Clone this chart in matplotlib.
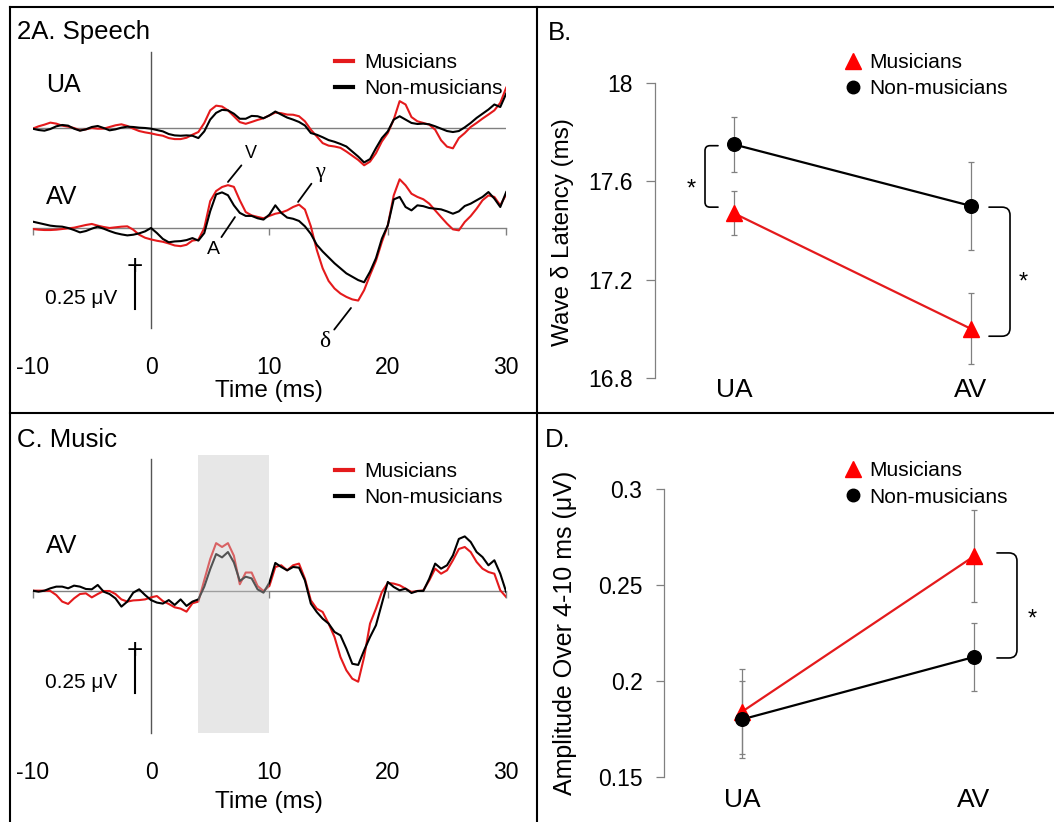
import numpy as np
import matplotlib
matplotlib.use("Agg")
import matplotlib.pyplot as plt
from matplotlib.lines import Line2D

plt.rcParams['font.family'] = ['Liberation Sans', 'DejaVu Sans']

W, H = 1054, 822
RED = '#e41a1c'
MRED = '#ff0000'
GREY = '#808080'
UV_PX = 168.0       # pixels per microvolt on the waveform panels
UA_OFF = 100 / UV_PX  # vertical offset of the UA trace above the AV trace

def fx(px):
    return px / W

def fy(py):
    return 1 - py / H

# ---- grand-average waveforms, sampled every 0.5 ms from -10 to 30 ms (uV) ----
t = np.arange(-10, 30.01, 0.5)

speech_ua_mus = [-0.004, 0.010, 0.020, 0.032, 0.026, 0.014, 0.008, 0.000, -0.014, -0.008,
                 0.000, -0.004, -0.004, 0.006, 0.016, 0.022, 0.012, -0.004, -0.018, -0.026,
                 -0.032, -0.040, -0.046, -0.060, -0.066, -0.066, -0.058, -0.040, -0.024, 0.030,
                 0.105, 0.133, 0.128, 0.105, 0.070, 0.035, 0.025, 0.036, 0.048, 0.058,
                 0.075, 0.092, 0.088, 0.080, 0.079, 0.070, 0.040, -0.010, -0.050, -0.090,
                 -0.105, -0.110, -0.118, -0.140, -0.165, -0.190, -0.222, -0.200, -0.150, -0.080,
                 -0.030, 0.050, 0.160, 0.140, 0.065, 0.040, 0.030, 0.020, -0.010, -0.073,
                 -0.111, -0.121, -0.060, -0.030, 0.006, 0.030, 0.056, 0.080, 0.105, 0.150,
                 0.240]
speech_ua_non = [-0.004, -0.012, -0.016, -0.006, 0.010, 0.018, 0.014, -0.004, -0.016, -0.008,
                 0.006, 0.012, 0.000, -0.014, -0.008, 0.002, 0.008, 0.006, 0.002, 0.000,
                 -0.004, -0.012, -0.020, -0.036, -0.044, -0.046, -0.044, -0.046, -0.060, -0.020,
                 0.050, 0.090, 0.108, 0.105, 0.085, 0.055, 0.055, 0.072, 0.070, 0.058,
                 0.075, 0.098, 0.080, 0.062, 0.050, 0.036, 0.015, -0.030, -0.040, -0.055,
                 -0.072, -0.082, -0.095, -0.110, -0.140, -0.170, -0.205, -0.185, -0.120, -0.060,
                 -0.020, 0.050, 0.070, 0.050, 0.030, 0.024, 0.026, 0.022, 0.010, -0.004,
                 -0.018, -0.024, -0.018, 0.004, 0.030, 0.060, 0.085, 0.110, 0.140, 0.125,
                 0.205]
speech_av_mus = [-0.006, -0.010, -0.012, -0.012, -0.010, -0.006, -0.002, 0.002, 0.010, 0.018,
                 0.024, 0.014, 0.006, 0.000, 0.004, 0.008, 0.010, -0.010, -0.040, -0.058,
                 -0.068, -0.076, -0.082, -0.092, -0.104, -0.108, -0.100, -0.075, -0.070, 0.000,
                 0.160, 0.220, 0.244, 0.255, 0.245, 0.165, 0.095, 0.075, 0.066, 0.058,
                 0.072, 0.085, 0.092, 0.105, 0.125, 0.139, 0.110, 0.010, -0.130, -0.240,
                 -0.315, -0.360, -0.390, -0.410, -0.425, -0.432, -0.370, -0.280, -0.195, -0.083,
                 0.016, 0.194, 0.290, 0.254, 0.204, 0.185, 0.171, 0.145, 0.105, 0.065,
                 0.026, -0.008, -0.014, 0.036, 0.071, 0.115, 0.165, 0.194, 0.185, 0.135,
                 0.200]
speech_av_non = [0.038, 0.030, 0.022, 0.014, 0.010, 0.008, 0.000, -0.012, -0.026, -0.018,
                 -0.004, 0.008, -0.004, -0.018, -0.030, -0.038, -0.044, -0.040, -0.032, -0.020,
                 0.000, -0.030, -0.065, -0.085, -0.080, -0.078, -0.072, -0.060, -0.075, -0.030,
                 0.100, 0.200, 0.212, 0.195, 0.135, 0.090, 0.072, 0.072, 0.058, 0.050,
                 0.080, 0.135, 0.090, 0.062, 0.055, 0.042, 0.010, -0.035, -0.100, -0.140,
                 -0.175, -0.210, -0.240, -0.270, -0.290, -0.310, -0.323, -0.260, -0.180, -0.063,
                 0.016, 0.170, 0.185, 0.125, 0.105, 0.135, 0.130, 0.119, 0.115, 0.111,
                 0.099, 0.085, 0.099, 0.131, 0.145, 0.165, 0.185, 0.214, 0.175, 0.125,
                 0.214]
music_av_mus = [0.002, 0.002, 0.002, 0.000, -0.024, -0.063, -0.077, -0.044, -0.018, -0.014,
                -0.038, -0.018, 0.000, 0.000, -0.018, -0.050, -0.063, -0.056, -0.054, -0.050,
                -0.038, -0.030, -0.060, -0.077, -0.097, -0.105, -0.123, -0.073, -0.063, 0.065,
                0.190, 0.285, 0.262, 0.285, 0.210, 0.040, 0.110, 0.110, 0.030, 0.000,
                0.030, 0.143, 0.153, 0.123, 0.153, 0.163, 0.073, -0.056, -0.105, -0.125,
                -0.194, -0.274, -0.393, -0.472, -0.522, -0.540, -0.393, -0.194, -0.105, -0.006,
                0.048, 0.044, 0.034, 0.014, -0.006, 0.000, 0.004, 0.063, 0.133, 0.103,
                0.123, 0.183, 0.250, 0.262, 0.232, 0.173, 0.133, 0.113, 0.103, 0.004,
                -0.036]
music_av_non = [0.002, -0.004, 0.002, 0.016, 0.026, 0.026, 0.016, 0.032, 0.026, 0.012,
                0.010, 0.036, -0.004, -0.018, -0.044, -0.093, -0.063, -0.010, 0.010, -0.024,
                -0.054, -0.069, -0.075, -0.054, -0.083, -0.050, -0.089, -0.063, -0.050, 0.026,
                0.130, 0.220, 0.200, 0.232, 0.170, 0.060, 0.085, 0.075, 0.010, -0.010,
                0.050, 0.167, 0.143, 0.123, 0.143, 0.139, 0.063, -0.075, -0.125, -0.165,
                -0.194, -0.244, -0.264, -0.343, -0.433, -0.440, -0.353, -0.274, -0.204, -0.075,
                0.054, 0.024, 0.004, 0.014, -0.012, 0.000, 0.000, 0.073, 0.163, 0.133,
                0.153, 0.212, 0.310, 0.325, 0.292, 0.232, 0.202, 0.153, 0.183, 0.103,
                -0.006]
time_ticks = [-10, 0, 10, 20, 30]
shade_ms = (4, 10)

# ---- group means and error bars ----
conditions = ['UA', 'AV']
lat_mus = [17.47, 17.00]
lat_mus_err = [0.09, 0.145]
lat_non = [17.75, 17.50]
lat_non_err = [0.112, 0.178]
amp_mus = [0.184, 0.265]
amp_mus_err = [0.022, 0.024]
amp_non = [0.180, 0.2125]
amp_non_err = [0.020, 0.0175]

fig = plt.figure(figsize=(W / 100, H / 100), dpi=100)
fig.patch.set_facecolor('white')

# panel frame lines
for xs, ys in [((10, W), (7, 7)), ((10, 10), (7, H)), ((537, 537), (7, H)), ((10, W), (413, 413))]:
    fig.add_artist(Line2D([fx(v) for v in xs], [fy(v) for v in ys], color='k', lw=1.5))


def wave_axes(top_px, bottom_px, base_px):
    ax = fig.add_axes([fx(32.6), fy(bottom_px), fx(506.2) - fx(32.6), (bottom_px - top_px) / H])
    ax.set_xlim(-10, 30)
    ax.set_ylim((base_px - bottom_px) / UV_PX, (base_px - top_px) / UV_PX)
    for s in ax.spines.values():
        s.set_visible(False)
    ax.set_yticks([])
    ax.set_xticks(time_ticks)
    ax.set_xticklabels([str(v) for v in time_ticks])
    ax.tick_params(axis='x', length=0, pad=11.5, labelsize=16.5)
    ax.patch.set_alpha(0)
    # baseline of the AV trace with small time ticks
    lo, hi = ax.get_ylim()
    sec = ax.secondary_xaxis((0 - lo) / (hi - lo))
    sec.set_alignment('bottom')
    sec.spines['bottom'].set_color(GREY)
    sec.spines['bottom'].set_linewidth(1.0)
    sec.set_xticks(time_ticks)
    sec.tick_params(axis='x', direction='out', length=5, width=1, color=GREY, labelbottom=False)
    return ax


def wave_legend(ax, top_px):
    handles = [Line2D([], [], color=RED, lw=3), Line2D([], [], color='k', lw=3)]
    ax.legend(handles, ['Musicians', 'Non-musicians'], loc='upper left',
              bbox_to_anchor=(fx(335), fy(top_px)), bbox_transform=fig.transFigure,
              frameon=False, fontsize=15, handlelength=0.87, handletextpad=0.53,
              labelspacing=0.34, borderpad=0, borderaxespad=0)


def scale_bar(ax, x_px, bottom_uv):
    tb = (x_px - 151) / 11.84
    ax.plot([tb, tb], [bottom_uv, bottom_uv + 0.25], color='k', lw=1.5)
    ax.text(tb, bottom_uv + 0.25, '+', ha='center', va='center', fontsize=20)
    ax.text(tb - 1.5, bottom_uv + 0.03, '0.25 \u03bcV', ha='right', va='baseline', fontsize=15)


# ---- A: speech ----
axA = wave_axes(40, 340, 228)
axA.axhline(UA_OFF, color=GREY, lw=1.0)
axA.axvline(0, ymin=0.04, ymax=0.96, color='#555555', lw=1.0)
axA.plot(t, np.array(speech_ua_mus) + UA_OFF, color=RED, lw=1.5)
axA.plot(t, np.array(speech_ua_non) + UA_OFF, color='k', lw=1.5)
axA.plot(t, speech_av_mus, color=RED, lw=1.5)
axA.plot(t, speech_av_non, color='k', lw=1.5)
wave_legend(axA, 53)
scale_bar(axA, 135, (228 - 309) / UV_PX)

arrow = dict(arrowstyle='-', color='k', lw=1.3, shrinkA=1, shrinkB=0)
axA.annotate('V', xy=(6.5, 0.274), xytext=(8.45, 0.417), ha='center', va='baseline',
             fontsize=13, arrowprops=arrow)
axA.annotate('A', xy=(7.09, 0.065), xytext=(5.24, -0.155), ha='center', va='baseline',
             fontsize=14, arrowprops=arrow)
axA.annotate('\u03b3', xy=(12.42, 0.155), xytext=(14.27, 0.333), ha='center', va='center',
             fontsize=16, family='Liberation Serif', arrowprops=arrow)
axA.annotate('\u03b4', xy=(16.89, -0.476), xytext=(14.70, -0.708), ha='center', va='baseline',
             fontsize=17, family='Liberation Serif', arrowprops=arrow)

fig.text(fx(17), fy(39.5), '2A. Speech', fontsize=18.5, va='baseline')
fig.text(fx(46), fy(92), 'UA', fontsize=18, va='baseline')
fig.text(fx(46), fy(204), 'AV', fontsize=18, va='baseline')
fig.text(fx(269), fy(397), 'Time (ms)', fontsize=17.5, ha='center', va='baseline')

# ---- C: music ----
axC = wave_axes(445, 745, 591)
axC.axvline(0, ymin=0.04, ymax=0.953, color='#555555', lw=1.0)
axC.plot(t, music_av_mus, color=RED, lw=1.5)
axC.plot(t, music_av_non, color='k', lw=1.5)
axC.axvspan(shade_ms[0], shade_ms[1], ymin=0.04, ymax=0.967, color='#c8c8c8', alpha=0.42,
            lw=0, zorder=5)
wave_legend(axC, 462)
scale_bar(axC, 135, (591 - 693) / UV_PX)

fig.text(fx(17), fy(447), 'C. Music', fontsize=18.5, va='baseline')
fig.text(fx(46), fy(553), 'AV', fontsize=18, va='baseline')
fig.text(fx(269), fy(808), 'Time (ms)', fontsize=17.5, ha='center', va='baseline')


# ---- B and D: group means ----
def bracket(ax, x, y1, y2, arm, rad, angle):
    cs = f'arc,angleA={angle},angleB={angle},armA={arm},armB={arm},rad={rad}'
    ax.annotate('', xy=(x, y2), xytext=(x, y1),
                arrowprops=dict(arrowstyle='-', connectionstyle=cs, color='k', lw=1.2,
                                shrinkA=0, shrinkB=0))


def star(ax, x, y):
    ax.annotate('*', xy=(x, y), xytext=(0, -5.2), textcoords='offset points',
                ha='center', va='center', fontsize=17)


def means_axes(left_px, top_px, bottom_px, x_ua, x_av, ylim, yticks, ylabels, xpad):
    ax = fig.add_axes([fx(left_px), fy(bottom_px), fx(1040) - fx(left_px), (bottom_px - top_px) / H])
    unit = x_av - x_ua
    ax.set_xlim(-(x_ua - left_px) / unit, 1 + (1040 - x_av) / unit)
    ax.set_ylim(*ylim)
    for s in ['top', 'right', 'bottom']:
        ax.spines[s].set_visible(False)
    ax.spines['left'].set_color(GREY)
    ax.spines['left'].set_linewidth(0.9)
    ax.set_yticks(yticks)
    ax.set_yticklabels(ylabels)
    ax.tick_params(axis='y', length=6.5, width=0.9, color=GREY, pad=9.5, labelsize=16.5)
    ax.set_xticks([0, 1])
    ax.set_xticklabels(conditions)
    ax.tick_params(axis='x', length=0, pad=xpad, labelsize=19)
    ax.patch.set_alpha(0)
    return ax


def draw_groups(ax, mus, mus_err, non, non_err, legend_top):
    x = [0, 1]
    ax.plot(x, mus, color=RED, lw=1.6, zorder=2)
    ax.plot(x, non, color='k', lw=1.6, zorder=2)
    ax.errorbar(x, mus, yerr=mus_err, fmt='none', ecolor=GREY, elinewidth=0.9,
                capsize=2.5, capthick=0.9, zorder=3)
    ax.errorbar(x, non, yerr=non_err, fmt='none', ecolor=GREY, elinewidth=0.9,
                capsize=2.5, capthick=0.9, zorder=3)
    ax.plot(x, mus, '^', color=MRED, ms=11, zorder=4)
    ax.plot(x, non, 'o', color='k', ms=9.8, zorder=5)
    handles = [Line2D([], [], marker='^', color=MRED, ls='none', ms=11),
               Line2D([], [], marker='o', color='k', ls='none', ms=9)]
    ax.legend(handles, ['Musicians', 'Non-musicians'], loc='upper left',
              bbox_to_anchor=(fx(844.7), fy(legend_top)), bbox_transform=fig.transFigure,
              frameon=False, fontsize=15, handlelength=0.8, handletextpad=0.4,
              labelspacing=0.36, borderpad=0, borderaxespad=0)


axB = means_axes(655, 83, 378, 734, 971, (16.8, 18.0), [16.8, 17.2, 17.6, 18.0],
                 ['16.8', '17.2', '17.6', '18'], 0)
draw_groups(axB, lat_mus, lat_mus_err, lat_non, lat_non_err, 53)
bracket(axB, -0.0675, 17.745, 17.495, 13, 5, 180)
bracket(axB, 1.076, 17.495, 16.97, 21, 8, 0)
star(axB, -0.181, 17.597)
star(axB, 1.219, 17.219)
fig.text(fx(548), fy(40), 'B.', fontsize=18.5, va='baseline')
fig.text(fx(562), fy(232), 'Wave \u03b4 Latency (ms)', rotation=90, ha='center', va='center',
         fontsize=17.5)

axD = means_axes(664, 489, 777, 742, 974, (0.15, 0.30), [0.15, 0.2, 0.25, 0.3],
                 ['0.15', '0.2', '0.25', '0.3'], 8)
axD.tick_params(axis='y', length=5.5, pad=10)
draw_groups(axD, amp_mus, amp_mus_err, amp_non, amp_non_err, 461)
bracket(axD, 1.099, 0.2667, 0.212, 20, 8, 0)
star(axD, 1.25, 0.236)
fig.text(fx(545), fy(447), 'D.', fontsize=18.5, va='baseline')
fig.text(fx(565), fy(633), 'Amplitude Over 4-10 ms (\u03bcV)', rotation=90, ha='center',
         va='center', fontsize=18)

fig.savefig('out.png', dpi=100, facecolor='white')
